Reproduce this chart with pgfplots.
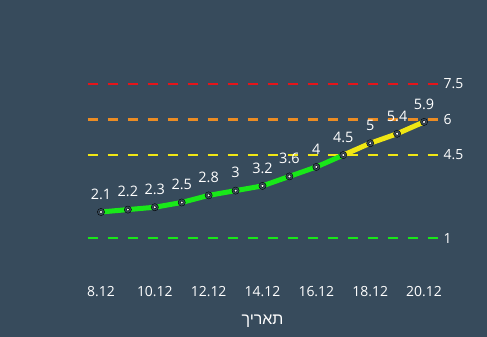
\documentclass[border=0pt]{standalone}
\usepackage{pgfplots}
\pgfplotsset{compat=1.18}
\usepackage{fontspec}
\setmainfont{Open Sans}
\newfontfamily\hebfont[Script=Hebrew]{Liberation Sans}
\TeXXeTstate=1
\definecolor{bg}{RGB}{55,75,92}
\definecolor{lred}{RGB}{230,20,25}
\definecolor{lorange}{RGB}{235,140,35}
\definecolor{lyellow}{RGB}{240,230,20}
\definecolor{lgreen}{RGB}{25,232,25}
\begin{document}
\begin{tikzpicture}
\fill[bg] (0bp,0bp) rectangle (487bp,337bp);
\begin{axis}[
  at={(87.5bp,56.3bp)}, anchor=south west,
  scale only axis, width=350bp, height=213.3bp,
  xmin=7.5, xmax=20.5, ymin=-0.8, ymax=8.2,
  axis line style={draw=none}, tick style={draw=none},
  ytick=\empty,
  xtick={8,10,12,14,16,18,20},
  xticklabels={8.12,10.12,12.12,14.12,16.12,18.12,20.12},
  xticklabel style={font=\fontsize{14}{16}\selectfont, text=white, yshift=-2bp},
  xlabel={\hebfont\beginR תאריך\endR},
  xlabel style={font=\fontsize{16}{18}\selectfont, text=white, yshift=-12bp},
  clip=false,
  nodes near coords style={font=\fontsize{14.5}{16}\selectfont, text=white},
]
\addplot[lgreen, line width=2.5bp, dash pattern=on 10.5bp off 9.5bp] coordinates {(7.5,1) (20.5,1)};
\addplot[lyellow, line width=2.5bp, dash pattern=on 10.5bp off 9.5bp] coordinates {(7.5,4.5) (20.5,4.5)};
\addplot[lorange, line width=2.5bp, dash pattern=on 10.5bp off 9.5bp] coordinates {(7.5,6) (20.5,6)};
\addplot[lred, line width=2.5bp, dash pattern=on 10.5bp off 9.5bp] coordinates {(7.5,7.5) (20.5,7.5)};
\addplot[lgreen, line width=5bp, mark=none] coordinates {
(8,2.1) (9,2.2) (10,2.3) (11,2.5) (12,2.8) (13,3) (14,3.2) (15,3.6) (16,4) (17,4.5)};
\addplot[lyellow, line width=5bp, mark=none] coordinates {
(17,4.5) (18,5) (19,5.4) (20,5.9)};
\addplot[only marks, mark=*, mark size=3.6bp, mark options={fill=bg, draw=none}] coordinates {
(8,2.1) (9,2.2) (10,2.3) (11,2.5) (12,2.8) (13,3) (14,3.2) (15,3.6) (16,4) (17,4.5) (18,5) (19,5.4) (20,5.9)};
\addplot[only marks, mark=*, mark size=1.7bp, mark options={fill=white, draw=none},
  nodes near coords, point meta=explicit symbolic,
  every node near coord/.append style={anchor=south, yshift=9bp}] coordinates {
(8,2.1) [2.1] (9,2.2) [2.2] (10,2.3) [2.3] (11,2.5) [2.5] (12,2.8) [2.8] (13,3) [3] (14,3.2) [3.2] (15,3.6) [3.6] (16,4) [4] (17,4.5) [4.5] (18,5) [5] (19,5.4) [5.4] (20,5.9) [5.9]};
\node[anchor=west, text=white, font=\fontsize{14}{16}\selectfont, inner sep=0bp, xshift=6bp] at (axis cs:20.5,7.5) {7.5};
\node[anchor=west, text=white, font=\fontsize{14}{16}\selectfont, inner sep=0bp, xshift=6bp] at (axis cs:20.5,6) {6};
\node[anchor=west, text=white, font=\fontsize{14}{16}\selectfont, inner sep=0bp, xshift=6bp] at (axis cs:20.5,4.5) {4.5};
\node[anchor=west, text=white, font=\fontsize{14}{16}\selectfont, inner sep=0bp, xshift=6bp] at (axis cs:20.5,1) {1};
\end{axis}
\end{tikzpicture}
\end{document}
